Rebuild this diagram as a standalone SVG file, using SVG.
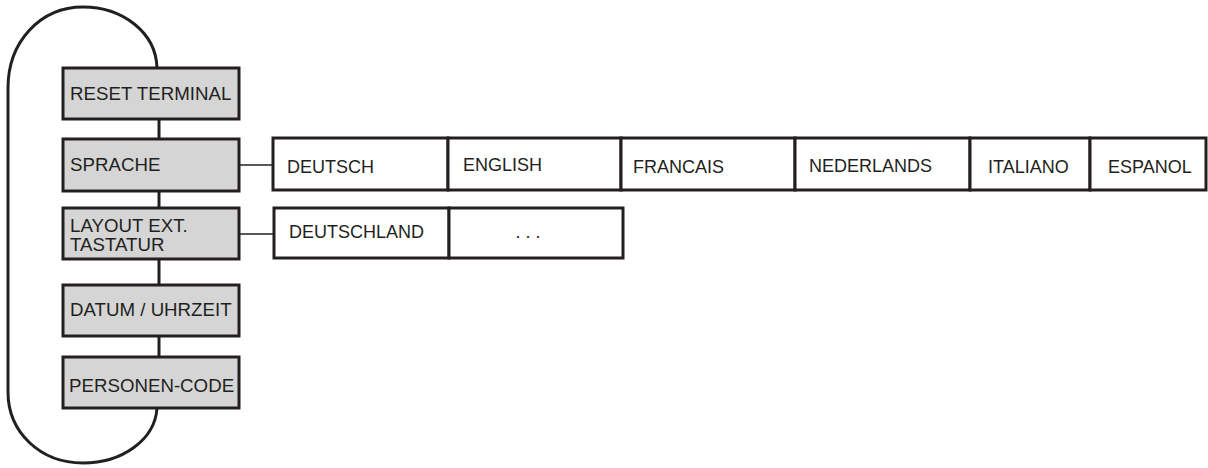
<svg xmlns="http://www.w3.org/2000/svg" width="1208" height="468" viewBox="0 0 1208 468">
<style>
.menu{fill:#d5d5d5;stroke:#231f20;stroke-width:3}
.opt{fill:#ffffff;stroke:#231f20;stroke-width:3}
text{font-family:"Liberation Sans",Arial,sans-serif;font-size:18px;fill:#231f20}
.menu-t{font-size:18.7px}
.thick{stroke:#231f20;stroke-width:3;fill:none}
.thin{stroke:#231f20;stroke-width:1.5;fill:none}
</style>
<rect width="1208" height="468" fill="#ffffff"/>
<g id="connectors">
<path class="thick" d="M157,68 C156,32 122,7 83,7 C40,7 8,42 8,88 L8,392 C8,432 40,463 83,463 C122,463 155,440 157,408"/>
<line class="thick" x1="159" y1="119" x2="159" y2="139"/>
<line class="thick" x1="159" y1="191" x2="159" y2="208"/>
<line class="thick" x1="159" y1="259" x2="159" y2="285"/>
<line class="thick" x1="159" y1="336" x2="159" y2="357"/>
<line class="thin" x1="239" y1="165" x2="273" y2="165"/>
<line class="thin" x1="239" y1="234" x2="274" y2="234"/>
</g>
<g id="reset-terminal"><rect class="menu" x="63" y="68" width="176" height="51"/><text class="menu-t" x="70" y="100">RESET TERMINAL</text></g>
<g id="sprache"><rect class="menu" x="63" y="139" width="176" height="52"/><text class="menu-t" x="70" y="171">SPRACHE</text></g>
<g id="layout"><rect class="menu" x="63" y="208" width="176" height="51"/><text class="menu-t" x="70" y="232">LAYOUT EXT.</text><text class="menu-t" x="70" y="251">TASTATUR</text></g>
<g id="datum"><rect class="menu" x="63" y="285" width="176" height="51"/><text class="menu-t" x="70" y="316">DATUM / UHRZEIT</text></g>
<g id="personen"><rect class="menu" x="63" y="357" width="176" height="51"/><text class="menu-t" x="69" y="392">PERSONEN-CODE</text></g>
<g id="deutsch"><rect class="opt" x="273" y="138" width="175" height="52"/><text x="287" y="173">DEUTSCH</text></g>
<g id="english"><rect class="opt" x="448" y="138" width="173" height="52"/><text x="463" y="171">ENGLISH</text></g>
<g id="francais"><rect class="opt" x="621" y="138" width="174" height="52"/><text x="633" y="173">FRANCAIS</text></g>
<g id="nederlands"><rect class="opt" x="795" y="138" width="175" height="52"/><text x="809" y="172">NEDERLANDS</text></g>
<g id="italiano"><rect class="opt" x="970" y="138" width="120" height="52"/><text x="988" y="173">ITALIANO</text></g>
<g id="espanol"><rect class="opt" x="1090" y="138" width="116" height="52"/><text x="1108" y="173">ESPANOL</text></g>
<g id="deutschland"><rect class="opt" x="274" y="208" width="175" height="50"/><text x="289" y="238">DEUTSCHLAND</text></g>
<g id="more"><rect class="opt" x="449" y="208" width="174" height="50"/><text x="528" y="238" text-anchor="middle">. . .</text></g>
</svg>
